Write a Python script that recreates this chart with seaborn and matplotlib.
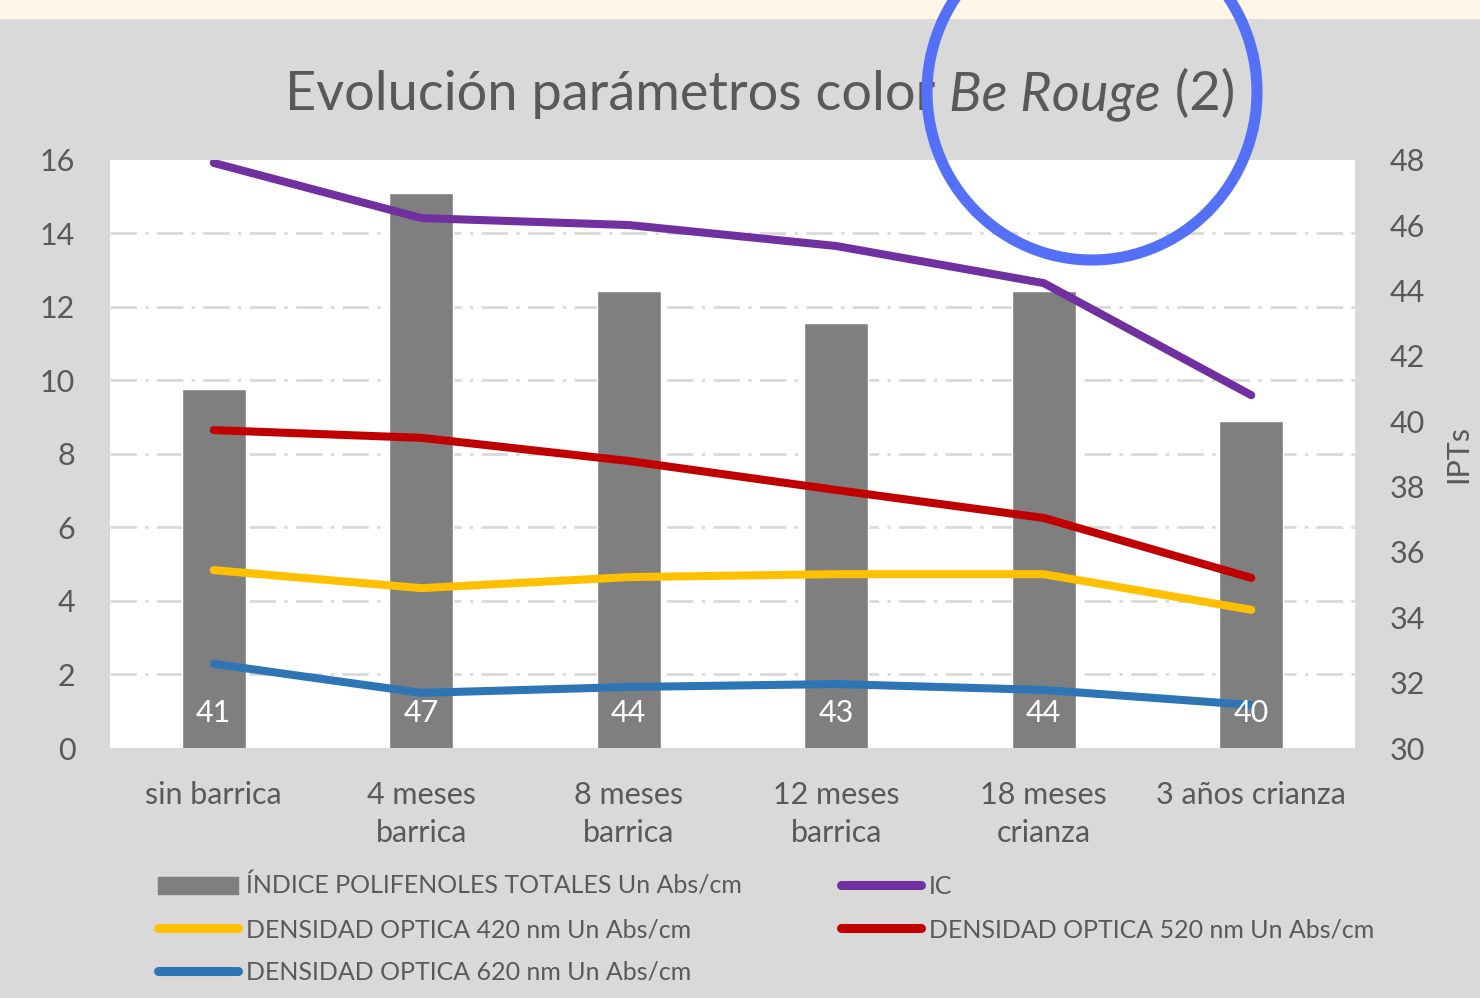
import numpy as np
import pandas as pd
import matplotlib
matplotlib.use("Agg")
import matplotlib.pyplot as plt
import matplotlib.transforms as mtransforms
from matplotlib.patches import Rectangle, Ellipse, Patch
from matplotlib.lines import Line2D
import seaborn as sns

# ---------------- data ----------------
categories = ["sin barrica", "4 meses\nbarrica", "8 meses\nbarrica",
              "12 meses\nbarrica", "18 meses\ncrianza", "3 años crianza"]
ipt = [41, 47, 44, 43, 44, 40]
ic = [15.92, 14.42, 14.23, 13.66, 12.65, 9.60]
do420 = [4.84, 4.35, 4.65, 4.73, 4.73, 3.76]
do520 = [8.65, 8.44, 7.81, 7.02, 6.26, 4.63]
do620 = [2.29, 1.50, 1.66, 1.74, 1.58, 1.17]
left_ticks = [0, 2, 4, 6, 8, 10, 12, 14, 16]
right_ticks = [30, 32, 34, 36, 38, 40, 42, 44, 46, 48]

lab_ipt = "ÍNDICE POLIFENOLES TOTALES Un Abs/cm"
lab_ic = "IC"
lab_420 = "DENSIDAD OPTICA 420 nm Un Abs/cm"
lab_520 = "DENSIDAD OPTICA 520 nm Un Abs/cm"
lab_620 = "DENSIDAD OPTICA 620 nm Un Abs/cm"

# ---------------- style ----------------
sns.set_style("white")
plt.rcParams["font.family"] = ["Lato", "DejaVu Sans"]
TXT = "#595959"
BG = "#D9D9D9"
C_BAR = "#7F7F7F"
C_IC = "#7030A0"
C_420 = "#FFC000"
C_520 = "#C00000"
C_620 = "#2E75B6"

W, H = 1480, 998
fig = plt.figure(figsize=(W / 100, H / 100), dpi=100, facecolor=BG)

# plot area
x0, x1 = 110, 1355
y_top, y_bot = 160, 748
ax = fig.add_axes([x0 / W, 1 - y_bot / H, (x1 - x0) / W, (y_bot - y_top) / H])
ax.set_facecolor("white")

df = pd.DataFrame({"cat": categories, "ipt": ipt})
sns.barplot(data=df, x="cat", y="ipt", ax=ax, color=C_BAR, saturation=1,
            width=0.31, zorder=2)
ax.set_ylim(30, 48)
ax.set_xlim(-0.5, len(categories) - 0.5)

ax2 = ax.twinx()
xs = np.arange(len(categories))
line_specs = [(ic, C_IC), (do520, C_520), (do420, C_420), (do620, C_620)]
for vals, col in line_specs:
    sns.lineplot(x=xs, y=vals, ax=ax2, color=col, linewidth=5.8, sort=False,
                 solid_capstyle="round", solid_joinstyle="round")
ax2.set_ylim(0, 16)

# axes sides: bars scale on right, lines scale on left
ax.yaxis.tick_right()
ax.yaxis.set_label_position("right")
ax2.yaxis.tick_left()
ax2.yaxis.set_label_position("left")

ax.set_yticks(right_ticks)
ax2.set_yticks(left_ticks)

# gridlines of the left scale drawn behind bars (on ax)
grid_pos = [30 + (v - 0) * (48 - 30) / (16 - 0) for v in left_ticks]
ax.set_yticks(grid_pos, minor=True)
ax.set_axisbelow(True)
ax.grid(which="minor", axis="y", color=BG, linewidth=2.0,
        linestyle=(0, (9.5, 3.0, 1.2, 3.0)))
ax.grid(which="major", axis="y", visible=False)
ax.grid(axis="x", visible=False)

for a in (ax, ax2):
    for s in a.spines.values():
        s.set_visible(False)
FS = 22
ax.tick_params(axis="y", which="both", length=0, labelsize=FS, labelcolor=TXT, pad=25)
ax2.tick_params(axis="y", length=0, labelsize=FS, labelcolor=TXT, pad=25)
ax.tick_params(axis="x", length=0, labelsize=FS, labelcolor=TXT, pad=24)
for t in ax.get_xticklabels():
    t.set_linespacing(1.42)
ax.set_xlabel("")
ax2.set_xlabel("")
ax2.set_ylabel("")
ax.set_ylabel("IPTs", fontsize=FS, color=TXT, labelpad=14)

# bar value labels (white, near the base)
btrans = mtransforms.blended_transform_factory(ax.transData, ax.transAxes)
for i, v in enumerate(ipt):
    ax2.text(i, 0.06, f"{v}", transform=btrans, ha="center", va="center",
             color="white", fontsize=FS, zorder=5)

# ---------------- title ----------------
r = fig.canvas.get_renderer()
parts = [("Evolución parámetros color ", "normal"), ("Be Rouge", "italic"),
         (" (2)", "normal")]
fs_title = 39
base_y = 1 - 110 / H
texts = []
for s, st in parts:
    t = fig.text(0, base_y, s, fontsize=fs_title, style=st, color=TXT, va="baseline")
    texts.append(t)
widths = [t.get_window_extent(r).width for t in texts]
total = sum(widths)
cx = 760
xpix = cx - total / 2
for t, w in zip(texts, widths):
    t.set_x(xpix / W)
    xpix += w

# ---------------- legend ----------------
h_ipt = Patch(facecolor=C_BAR, edgecolor=C_BAR)
h_ic = Line2D([], [], color=C_IC, lw=6.5, solid_capstyle="round")
h_420 = Line2D([], [], color=C_420, lw=6.5, solid_capstyle="round")
h_520 = Line2D([], [], color=C_520, lw=6.5, solid_capstyle="round")
h_620 = Line2D([], [], color=C_620, lw=6.5, solid_capstyle="round")
leg = fig.legend([h_ipt, h_420, h_620, h_ic, h_520],
                 [lab_ipt, lab_420, lab_620, lab_ic, lab_520],
                 loc="upper left", bbox_to_anchor=(158 / W, 1 - 874 / H),
                 bbox_transform=fig.transFigure, ncol=2, frameon=False,
                 fontsize=18, handlelength=3.2, handleheight=0.7,
                 handletextpad=0.3, columnspacing=4.0, labelspacing=0.8,
                 borderpad=0, borderaxespad=0)
for t in leg.get_texts():
    t.set_color(TXT)

# ---------------- decorations ----------------
fig.patches.append(Rectangle((0, 1 - 19 / H), 1, 19 / H, transform=fig.transFigure,
                             facecolor="#FFF6E8", edgecolor="none", zorder=-1))
fig.patches.append(Ellipse((1092, H - 92), 330, 336, angle=0,
                           transform=mtransforms.IdentityTransform(),
                           fill=False, edgecolor="#5470F6", linewidth=8, zorder=20))

fig.savefig("out.png", dpi=100, facecolor=BG)
